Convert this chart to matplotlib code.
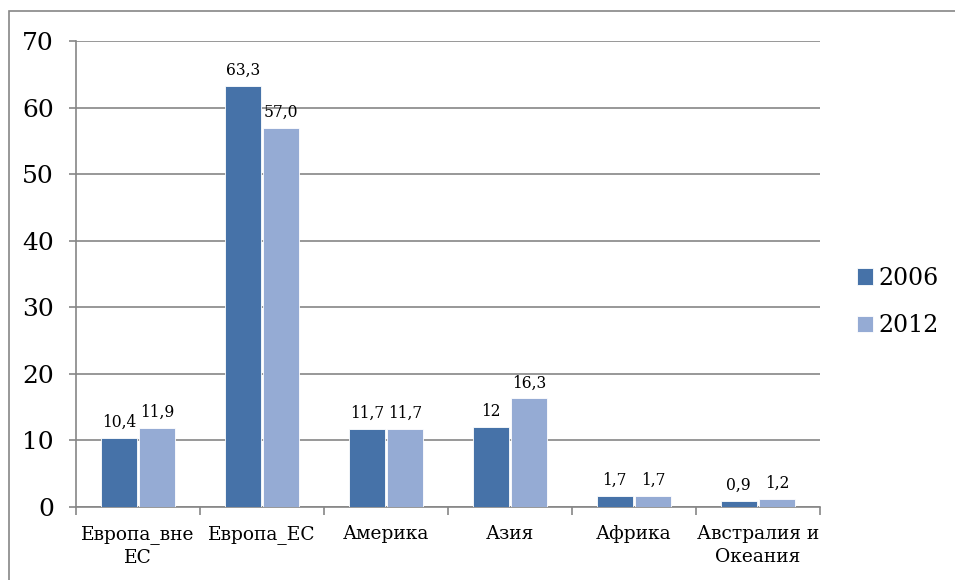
import numpy as np
import matplotlib
matplotlib.use("Agg")
import matplotlib.pyplot as plt

# Share of migrants by region, %
CATEGORIES = ["Европа_вне\nЕС", "Европа_ЕС", "Америка", "Азия", "Африка",
              "Австралия и\nОкеания"]
VALUES_2006 = [10.4, 63.3, 11.7, 12.0, 1.7, 0.9]
VALUES_2012 = [11.9, 57.0, 11.7, 16.3, 1.7, 1.2]
LABELS_2006 = ["10,4", "63,3", "11,7", "12", "1,7", "0,9"]
LABELS_2012 = ["11,9", "57,0", "11,7", "16,3", "1,7", "1,2"]
SERIES = ["2006", "2012"]
Y_TICKS = [0, 10, 20, 30, 40, 50, 60, 70]

DARK = "#4672A8"
LIGHT = "#95ABD4"
GRID = "#868686"

plt.rcParams["font.family"] = ["DejaVu Serif"]

fig = plt.figure(figsize=(9.55, 5.8), dpi=100)

# outer chart frame: only its left and top edges fall inside the image
frame = fig.add_axes([0, 0, 1, 1], zorder=-1)
frame.set_axis_off()
frame.set_xlim(0, 955)
frame.set_ylim(580, 0)
frame.plot([8.5, 8.5, 1000], [600, 10.5, 10.5], color=GRID, linewidth=1.2,
           solid_joinstyle="miter")

ax = fig.add_axes([0.0796, 0.1259, 0.779, 0.8034])
ax.patch.set_alpha(0)

x = np.arange(len(CATEGORIES))
w = 0.29
off = 0.155
b1 = ax.bar(x - off, VALUES_2006, w, color=DARK, edgecolor="white",
            linewidth=0.6, label=SERIES[0], zorder=3)
b2 = ax.bar(x + off, VALUES_2012, w, color=LIGHT, edgecolor="white",
            linewidth=0.6, label=SERIES[1], zorder=3)

for bars, labels in ((b1, LABELS_2006), (b2, LABELS_2012)):
    for rect, txt in zip(bars, labels):
        ax.annotate(txt, (rect.get_x() + rect.get_width() / 2, rect.get_height()),
                    xytext=(0, 5), textcoords="offset points",
                    ha="center", va="bottom", fontsize=11.2)

ax.set_xlim(-0.5, len(CATEGORIES) - 0.5)
ax.set_ylim(0, 70)
ax.set_yticks(Y_TICKS)
ax.tick_params(axis="y", labelsize=18, length=5, color=GRID, width=1.2, pad=11)
ax.yaxis.grid(True, color=GRID, linewidth=1.2, zorder=0)
ax.set_axisbelow(True)

ax.set_xticks(x)
ax.set_xticklabels(CATEGORIES, fontsize=13.4, linespacing=1.35)
ax.tick_params(axis="x", length=0, pad=13)
ax.set_xticks(np.arange(-0.5, len(CATEGORIES)), minor=True)
ax.tick_params(axis="x", which="minor", length=6, color=GRID, width=1.2)

for side in ("top", "right"):
    ax.spines[side].set_visible(False)
for side in ("left", "bottom"):
    ax.spines[side].set_color(GRID)
    ax.spines[side].set_linewidth(1.2)

ax.legend(loc="center left", bbox_to_anchor=(1.005, 0.44), frameon=False,
          fontsize=17, handlelength=0.7, handleheight=0.7, handletextpad=0.2,
          labelspacing=1.05, borderaxespad=1.0)

fig.savefig("out.png", dpi=100)
